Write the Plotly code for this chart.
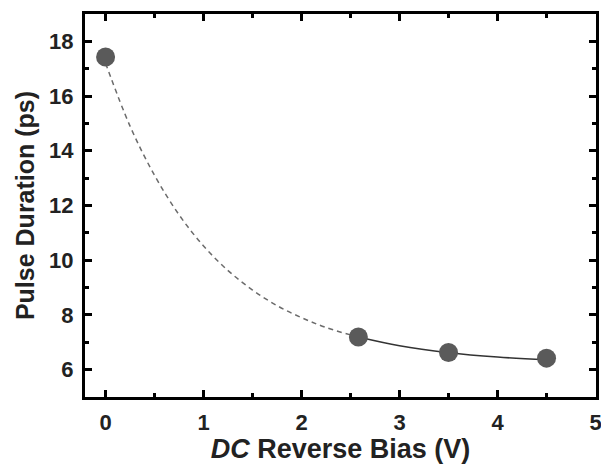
import plotly.graph_objects as go

# measured data
bias = [0, 2.58, 3.5, 4.5]
duration = [17.43, 7.19, 6.63, 6.42]

# fit curve (extrapolated part dashed)
fit_x_dash = [0, 0.25, 0.5, 0.75, 1.0, 1.25, 1.5, 1.75, 2.0, 2.25, 2.58]
fit_y_dash = [17.2, 14.9, 13.1, 11.66, 10.52, 9.62, 8.91, 8.34, 7.90, 7.54, 7.19]
fit_x_solid = [2.58, 3.0, 3.5, 4.0, 4.5]
fit_y_solid = [7.19, 6.87, 6.62, 6.46, 6.36]

x_range = [-0.21, 5.005]
y_range = [5, 19]

data = [
    go.Scatter(
        x=fit_x_dash, y=fit_y_dash, mode="lines", line_shape="spline",
        line={"color": "#6b6b6b", "width": 1.5, "dash": "5px,4px"},
        showlegend=False
    ),
    go.Scatter(
        x=fit_x_solid, y=fit_y_solid, mode="lines", line_shape="spline",
        line={"color": "#333333", "width": 1.5},
        showlegend=False
    ),
    # markers on the top/right axes pair (same ranges) so that frame gets drawn
    go.Scatter(
        x=bias, y=duration, mode="markers", xaxis="x2", yaxis="y2",
        marker={"color": "#5a5a5a", "size": 19},
        showlegend=False
    ),
]

tick_style = dict(
    showline=True, linecolor="black", linewidth=3, mirror="allticks",
    ticks="inside", ticklen=7, tickwidth=3, tickcolor="black",
    showgrid=False, zeroline=False, automargin=False,
)
x_minor = {"ticks": "inside", "dtick": 0.5, "ticklen": 4, "tickwidth": 3, "tickcolor": "black"}
y_minor = {"ticks": "inside", "dtick": 1, "ticklen": 4, "tickwidth": 3, "tickcolor": "black"}

layout = go.Layout(
    width=601, height=464,
    margin={"l": 85, "r": 5, "t": 14, "b": 67},
    paper_bgcolor="white", plot_bgcolor="white",
    font={"family": "Arial", "color": "#222"},
    xaxis=dict(
        tick_style, range=x_range, dtick=1, minor=x_minor,
        tickfont={"family": "Arial", "size": 22, "color": "#222"},
        ticklabeloverflow="allow", tickprefix="<b>", ticksuffix="</b>", ticklabelstandoff=4,
        title={"text": "<b><i>DC</i> Reverse Bias (V)</b>",
               "font": {"family": "Arial", "size": 27, "color": "#222"}, "standoff": 2},
    ),
    yaxis=dict(
        tick_style, range=y_range, dtick=2, tick0=0, minor=y_minor,
        tickfont={"family": "Arial", "size": 22, "color": "#222"},
        tickprefix="<b>", ticksuffix="</b>", ticklabelstandoff=4,
        title={"text": "<b>Pulse Duration (ps)</b>",
               "font": {"family": "Arial", "size": 25, "color": "#222"}, "standoff": 8},
    ),
    xaxis2=dict(
        tick_style, overlaying="x", side="top", anchor="y2", range=x_range, dtick=1,
        minor=x_minor, showticklabels=False,
    ),
    yaxis2=dict(
        tick_style, overlaying="y", side="right", anchor="x2", range=y_range, dtick=2, tick0=0,
        minor=y_minor, showticklabels=False,
    ),
)

fig = go.Figure(data=data, layout=layout)
fig.write_html("out.html", config={"displayModeBar": False},
               post_script="document.body.style.margin='0';")
